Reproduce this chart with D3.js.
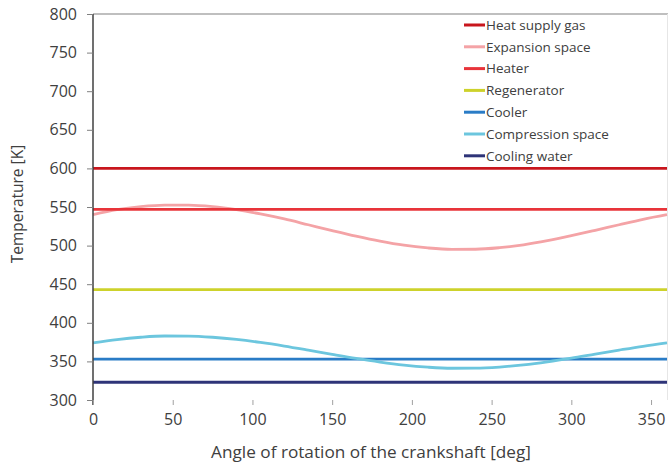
<!DOCTYPE html>
<html>
<head>
<meta charset="utf-8">
<script src="https://cdn.jsdelivr.net/npm/d3@7"></script>
<style>
  html, body { margin: 0; padding: 0; background: #fff; }
  svg { display: block; font-family: "Open Sans", sans-serif; }
</style>
</head>
<body>
<svg id="chart" width="668" height="463"></svg>
<script>
// ---- Data ----
const angles = [0, 15, 30, 45, 60, 75, 90, 105, 120, 135, 150, 165, 180,
                195, 210, 225, 240, 255, 270, 285, 300, 315, 330, 345, 360];
const heatSupplyGas = 600;
const expansionSpace = [540, 546.5, 550.5, 552.5, 552.5, 550.5, 546.5, 541, 534.5, 527, 519.5, 512.3, 505.8,
                        500.5, 497, 495.2, 495.3, 497.3, 501, 506.3, 512.8, 519.8, 527, 534, 540];
const heater = 547;
const regenerator = 443;
const cooler = 353;
const compressionSpace = [374, 378.3, 381.3, 382.9, 382.8, 381.3, 378.5, 374.6, 369.9, 364.6, 359.1, 353.8, 349.1,
                          345.2, 342.5, 341.1, 341.2, 342.7, 345.5, 349.4, 354.1, 359.4, 364.6, 369.6, 374];
const coolingWater = 323;
const xTicks = [0, 50, 100, 150, 200, 250, 300, 350];
const yTicks = [300, 350, 400, 450, 500, 550, 600, 650, 700, 750, 800];

const seriesNames = ["Heat supply gas", "Expansion space", "Heater", "Regenerator",
                     "Cooler", "Compression space", "Cooling water"];
const seriesColors = ["#c8161d", "#f4a3a6", "#e8343a", "#cdd22b", "#2a7cc6", "#6cc6de", "#2e3478"];

const seriesValues = [
  angles.map(() => heatSupplyGas),
  expansionSpace,
  angles.map(() => heater),
  angles.map(() => regenerator),
  angles.map(() => cooler),
  compressionSpace,
  angles.map(() => coolingWater)
];

// ---- Layout ----
const svg = d3.select("#chart");
const mLeft = 93, mRight = 667, mTop = 14, mBottom = 400;

const x = d3.scaleLinear().domain([0, 360]).range([mLeft, mRight]);
const y = d3.scaleLinear().domain([300, 800]).range([mBottom, mTop]);

// top gridline (800) and right border
svg.append("line")
  .attr("x1", mLeft).attr("x2", 668)
  .attr("y1", y(800)).attr("y2", y(800))
  .attr("stroke", "#bfbfbf").attr("stroke-width", 2);
svg.append("line")
  .attr("x1", 667.5).attr("x2", 667.5)
  .attr("y1", y(800)).attr("y2", mBottom)
  .attr("stroke", "#e6e6e6").attr("stroke-width", 1);

// ---- Series ----
const line = d3.line().x((d, i) => x(angles[i])).y(d => y(d)).curve(d3.curveMonotoneX);
seriesValues.forEach((vals, k) => {
  svg.append("path")
    .datum(vals)
    .attr("d", line)
    .attr("fill", "none")
    .attr("stroke", seriesColors[k])
    .attr("stroke-width", 2.8);
});

// ---- Y axis ----
const yAxis = svg.append("g")
  .attr("transform", `translate(${mLeft},0)`)
  .call(d3.axisLeft(y).tickValues(yTicks).tickSize(6).tickSizeOuter(0).tickPadding(10));
yAxis.select(".domain").attr("stroke", "#404040").attr("stroke-width", 1.5)
  .attr("d", `M0,${mTop}V${mBottom + 5}`);
yAxis.selectAll(".tick line").attr("stroke", "#808080");
yAxis.selectAll(".tick text").attr("font-size", 16).attr("fill", "#404040")
  .attr("font-family", "Open Sans, sans-serif");

// ---- X axis ----
const xAxis = svg.append("g")
  .attr("transform", `translate(0,${mBottom})`)
  .call(d3.axisBottom(x).tickValues(xTicks).tickSize(5).tickSizeOuter(0).tickPadding(9));
xAxis.select(".domain").remove();
xAxis.selectAll(".tick line").attr("stroke", "#a0a0a0");
xAxis.selectAll(".tick text").attr("font-size", 16).attr("fill", "#404040")
  .attr("font-family", "Open Sans, sans-serif");

// ---- Titles ----
svg.append("text")
  .attr("x", 371).attr("y", 452).attr("dy", "0.35em")
  .attr("text-anchor", "middle")
  .attr("font-size", 17.2).attr("fill", "#404040")
  .text("Angle of rotation of the crankshaft [deg]");
svg.append("text")
  .attr("transform", `translate(18,204) rotate(-90)`)
  .attr("dy", "0.35em")
  .attr("text-anchor", "middle")
  .attr("font-size", 15.5).attr("fill", "#404040")
  .text("Temperature [K]");

// ---- Legend ----
const legend = svg.append("g").attr("transform", "translate(464,25)");
seriesNames.forEach((name, i) => {
  const g = legend.append("g").attr("transform", `translate(0,${i * 21.8})`);
  g.append("line").attr("x1", 0).attr("x2", 21).attr("y1", 0).attr("y2", 0)
    .attr("stroke", seriesColors[i]).attr("stroke-width", 3);
  g.append("text").attr("x", 22).attr("y", 0).attr("dy", "0.35em")
    .attr("font-size", 13.5).attr("fill", "#404040").text(name);
});
</script>
</body>
</html>
